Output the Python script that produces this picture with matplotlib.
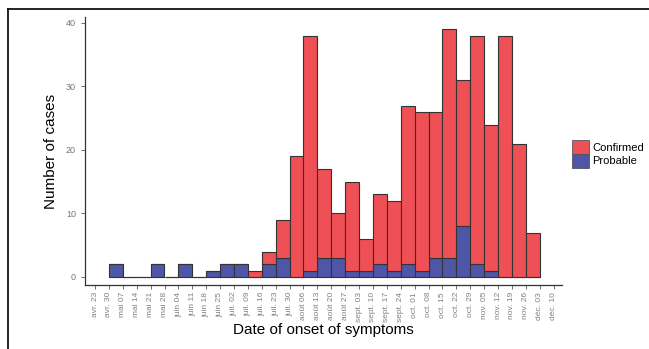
import matplotlib
matplotlib.use("Agg")
import matplotlib.pyplot as plt
from matplotlib.lines import Line2D
from matplotlib.patches import Patch
import numpy as np

# weekly tick labels (French dates)
week_labels = ['avr. 23', 'avr. 30', 'mai 07', 'mai 14', 'mai 21', 'mai 28',
               'juin 04', 'juin 11', 'juin 18', 'juin 25',
               'juil. 02', 'juil. 09', 'juil. 16', 'juil. 23', 'juil. 30',
               'août 06', 'août 13', 'août 20', 'août 27',
               'sept. 03', 'sept. 10', 'sept. 17', 'sept. 24',
               'oct. 01', 'oct. 08', 'oct. 15', 'oct. 22', 'oct. 29',
               'nov. 05', 'nov. 12', 'nov. 19', 'nov. 26',
               'déc. 03', 'déc. 10']

# cases per week, starting at week of avr. 30
probable = [2, 0, 0, 2, 0, 2, 0, 1, 2, 2, 0, 2, 3, 0, 1, 3, 3, 1, 1, 2, 1,
            2, 1, 3, 3, 8, 2, 1, 0, 0, 0]
confirmed = [0, 0, 0, 0, 0, 0, 0, 0, 0, 0, 1, 2, 6, 19, 37, 14, 7, 14, 5, 11, 11,
             25, 25, 23, 36, 23, 36, 23, 38, 21, 7]

red = '#EF5055'
blue = '#4F56A8'
grey = '#555555'

plt.rcParams['font.family'] = ['Liberation Sans', 'DejaVu Sans']

fig = plt.figure(figsize=(6.49, 3.49), dpi=100)
ax = fig.add_axes([85 / 649, 64 / 349, (562 - 85) / 649, (285 - 17) / 349])

x = np.arange(1, len(probable) + 1)
ax.bar(x, probable, width=1, align='edge', color=blue,
       edgecolor='#333333', linewidth=0.8)
ax.bar(x, confirmed, width=1, align='edge', bottom=probable, color=red,
       edgecolor='#333333', linewidth=0.8)

ax.set_xlim(-0.72, 33.6)
ax.set_ylim(-1.26, 40.94)
ax.set_xticks(np.arange(len(week_labels)))
ax.set_xticklabels(week_labels, rotation=90, fontsize=6, color='#808080')
ax.set_yticks([0, 10, 20, 30, 40])
ax.tick_params(axis='y', labelsize=6.5, labelcolor='#777777', length=3,
               color=grey, width=0.6)
ax.tick_params(axis='x', length=3, color=grey, width=0.6, pad=2)

for s in ['top', 'right']:
    ax.spines[s].set_visible(False)
for s in ['left', 'bottom']:
    ax.spines[s].set_color('#333333')
    ax.spines[s].set_linewidth(0.9)

ax.set_xlabel('Date of onset of symptoms', fontsize=11, labelpad=1)
ax.set_ylabel('Number of cases', fontsize=11, labelpad=6)

handles = [Patch(facecolor=red, edgecolor='#555555', linewidth=0.6, label='Confirmed'),
           Patch(facecolor=blue, edgecolor='#555555', linewidth=0.6, label='Probable')]
fig.legend(handles=handles, loc='center left', bbox_to_anchor=(568 / 649, 1 - 154 / 349),
           frameon=False, fontsize=8, handlelength=1.5, handleheight=1.5,
           handletextpad=0.3, labelspacing=0.0, borderaxespad=0)

# screenshot frame
fig.add_artist(Line2D([8 / 649, 1], [1 - 9 / 349, 1 - 9 / 349], color='black', lw=1.2))
fig.add_artist(Line2D([8 / 649, 8 / 649], [0, 1 - 9 / 349], color='black', lw=1.2))

fig.savefig('out.png', dpi=100)
